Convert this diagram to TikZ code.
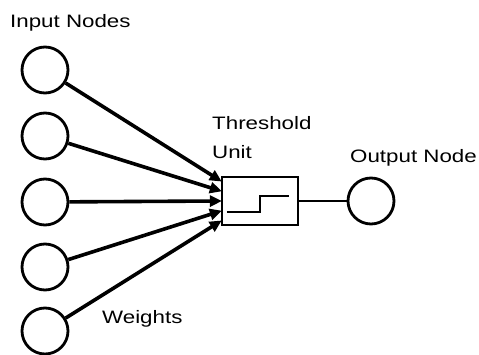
\documentclass[tikz,border=0pt]{standalone}
\usepackage{fontspec}
\setmainfont{Liberation Sans}[FakeStretch=1.24]
\usetikzlibrary{arrows.meta,calc}
\begin{document}
\begin{tikzpicture}[x=1pt,y=-1pt,
  unit/.style={circle,draw,line width=2.8pt,minimum size=46pt,inner sep=0pt},
  weight/.style={line width=3.6pt,-{Triangle[length=12pt,width=11pt]},shorten >=-1pt},
  label/.style={anchor=base west,inner sep=0pt,font=\fontsize{18pt}{20pt}\selectfont}]
  \useasboundingbox (0,0) rectangle (479,355);

  % input layer
  \node[unit] (in1) at (45,70) {};
  \node[unit] (in2) at (45,136) {};
  \node[unit] (in3) at (45,202) {};
  \node[unit] (in4) at (45,267) {};
  \node[unit] (in5) at (45,331) {};

  % threshold unit with its step function
  \node[draw,line width=2.2pt,minimum width=76pt,minimum height=48pt,inner sep=0pt] (thr) at (260,201) {};
  \coordinate (s1) at ($(thr.west)+(6,11)$);
  \coordinate (s2) at ($(thr.west)+(39,11)$);
  \coordinate (s3) at ($(thr.west)+(39,-5)$);
  \coordinate (s4) at ($(thr.west)+(68,-5)$);
  \draw[line width=2.2pt] (s1) -- (s2) -- (s3) -- (s4);

  % output layer
  \node[unit] (out) at (371,201) {};
  \draw[line width=1.5pt] (thr.east) -- (out.west);

  % weighted connections
  \coordinate (t1) at ($(thr.west)+(0,-20)$);
  \coordinate (t2) at ($(thr.west)+(0,-10)$);
  \coordinate (t3) at ($(thr.west)+(0,0)$);
  \coordinate (t4) at ($(thr.west)+(0,10)$);
  \coordinate (t5) at ($(thr.west)+(0,20)$);
  \draw[weight] (in1) -- (t1);
  \draw[weight] (in2) -- (t2);
  \draw[weight] (in3) -- (t3);
  \draw[weight] (in4) -- (t4);
  \draw[weight] (in5) -- (t5);

  % labels
  \node[label] (linput) at (10,28) {Input Nodes};
  \node[label] (lthr) at (212,130) {Threshold};
  \node[label] (lunit) at (212,159) {Unit};
  \node[label] (lout) at (350,163) {Output Node};
  \node[label] (lw) at (102,323) {Weights};
\end{tikzpicture}
\end{document}
